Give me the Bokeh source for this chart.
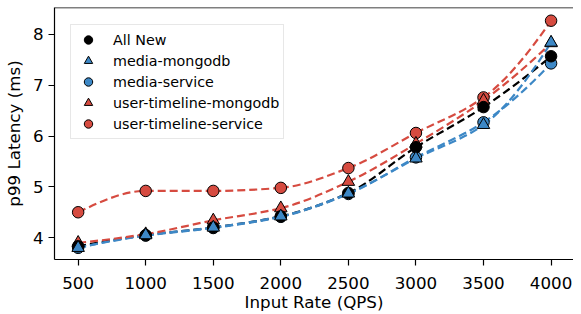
from bokeh.plotting import figure
from bokeh.models import Legend, LegendItem, Span, FixedTicker, Range1d, ColumnDataSource
from bokeh.embed import file_html
from bokeh.resources import INLINE

# ---- data ----
rates = [500, 1000, 1500, 2000, 2500, 3000, 3500, 4000]
all_new = [3.83, 4.05, 4.20, 4.42, 4.88, 5.78, 6.57, 7.57]
media_mongodb = [3.80, 4.05, 4.20, 4.42, 4.87, 5.56, 6.22, 7.84]
media_service = [3.80, 4.04, 4.19, 4.41, 4.86, 5.58, 6.27, 7.43]
ut_mongodb = [3.90, 4.07, 4.34, 4.58, 5.10, 5.85, 6.70, 7.83]
ut_service = [4.50, 4.92, 4.92, 4.98, 5.37, 6.06, 6.76, 8.27]
x_ticks = [500, 1000, 1500, 2000, 2500, 3000, 3500, 4000]
y_ticks = [4, 5, 6, 7, 8]

RED = "#d64b40"
BLUE = "#3d88c6"
FONT = "DejaVu Sans"

X_MIN, X_MAX = 325, 4166
Y_MIN, Y_MAX = 3.57, 8.53

p = figure(width=573, height=314, output_backend="svg", toolbar_location=None,
           x_range=Range1d(X_MIN, X_MAX), y_range=Range1d(Y_MIN, Y_MAX),
           min_border_left=46, min_border_right=0, min_border_top=7, min_border_bottom=54)
p.outline_line_color = None
p.xgrid.visible = False
p.ygrid.visible = False
p.background_fill_color = "white"
p.border_fill_color = "white"

for ax in (p.xaxis[0], p.yaxis[0]):
    ax.axis_line_color = "black"
    ax.axis_line_width = 1.2
    ax.major_tick_line_color = "black"
    ax.major_tick_line_width = 1.2
    ax.major_tick_out = 6
    ax.major_tick_in = 0
    ax.minor_tick_line_color = None
    ax.major_label_text_font = FONT
    ax.major_label_text_font_size = "16.7px"
    ax.major_label_text_color = "black"
    ax.axis_label_text_font = FONT
    ax.axis_label_text_font_size = "16.7px"
    ax.axis_label_text_font_style = "normal"
    ax.axis_label_text_color = "black"

p.xaxis.ticker = FixedTicker(ticks=x_ticks)
p.yaxis.ticker = FixedTicker(ticks=y_ticks)
p.xaxis.axis_label = "Input Rate (QPS)"
p.yaxis.axis_label = "p99 Latency (ms)"
p.xaxis.major_label_standoff = 11
p.xaxis.axis_label_standoff = 0
p.yaxis.major_label_standoff = 5
p.yaxis.axis_label_standoff = 6

p.add_layout(Span(location=Y_MAX, dimension="width", line_color="black", line_width=1.5))


def pchip_slopes(x, y):
    n = len(x)
    h = [x[i + 1] - x[i] for i in range(n - 1)]
    dl = [(y[i + 1] - y[i]) / h[i] for i in range(n - 1)]
    d = [0.0] * n
    for i in range(1, n - 1):
        if dl[i - 1] * dl[i] <= 0:
            d[i] = 0.0
        else:
            w1 = 2 * h[i] + h[i - 1]
            w2 = h[i] + 2 * h[i - 1]
            d[i] = (w1 + w2) / (w1 / dl[i - 1] + w2 / dl[i])

    def end(h0, h1, d0, d1):
        s = ((2 * h0 + h1) * d0 - h0 * d1) / (h0 + h1)
        if s * d0 <= 0:
            return 0.0
        if d0 * d1 <= 0 and abs(s) > abs(3 * d0):
            return 3 * d0
        return s
    d[0] = end(h[0], h[1], dl[0], dl[1])
    d[-1] = end(h[-1], h[-2], dl[-1], dl[-2])
    return d


def smooth_curve(x, y, color):
    d = pchip_slopes(x, y)
    n = len(x)
    data = dict(x0=[], y0=[], x1=[], y1=[], cx0=[], cy0=[], cx1=[], cy1=[])
    for i in range(n - 1):
        h = x[i + 1] - x[i]
        data["x0"].append(x[i]); data["y0"].append(y[i])
        data["x1"].append(x[i + 1]); data["y1"].append(y[i + 1])
        data["cx0"].append(x[i] + h / 3); data["cy0"].append(y[i] + d[i] * h / 3)
        data["cx1"].append(x[i + 1] - h / 3); data["cy1"].append(y[i + 1] - d[i + 1] * h / 3)
    p.bezier(x0="x0", y0="y0", x1="x1", y1="y1", cx0="cx0", cy0="cy0", cx1="cx1", cy1="cy1",
             source=ColumnDataSource(data), line_color=color, line_width=2.2, line_dash="8 4")


smooth_curve(rates, all_new, "black")
smooth_curve(rates, media_mongodb, BLUE)
smooth_curve(rates, media_service, BLUE)
smooth_curve(rates, ut_mongodb, RED)
smooth_curve(rates, ut_service, RED)

r_ms = p.scatter(rates, media_service, marker="circle", size=11.5, fill_color=BLUE,
                 line_color="black", line_width=1)
r_us = p.scatter(rates, ut_service, marker="circle", size=11.5, fill_color=RED,
                 line_color="black", line_width=1)
r_um = p.scatter(rates, ut_mongodb, marker="triangle", size=12.5, fill_color=RED,
                 line_color="black", line_width=1)
r_an = p.scatter(rates, all_new, marker="circle", size=11.5, fill_color="black",
                 line_color="black", line_width=1)
r_mm = p.scatter(rates, media_mongodb, marker="triangle", size=12.5, fill_color=BLUE,
                 line_color="black", line_width=1)

legend = Legend(items=[
    LegendItem(label="All New", renderers=[r_an]),
    LegendItem(label="media-mongodb", renderers=[r_mm]),
    LegendItem(label="media-service", renderers=[r_ms]),
    LegendItem(label="user-timeline-mongodb", renderers=[r_um]),
    LegendItem(label="user-timeline-service", renderers=[r_us]),
], location=(16, 120))
legend.margin = 0
legend.padding = 4
legend.spacing = 0
legend.glyph_width = 26
legend.glyph_height = 21
legend.label_height = 21
legend.label_standoff = 12
legend.label_text_font = FONT
legend.label_text_font_size = "14.3px"
legend.label_text_color = "black"
legend.border_line_color = "#d0d0d0"
legend.border_line_width = 1
legend.background_fill_color = "white"
legend.background_fill_alpha = 0.85
p.add_layout(legend, "center")

open("out.html", "w").write(file_html(p, INLINE))
